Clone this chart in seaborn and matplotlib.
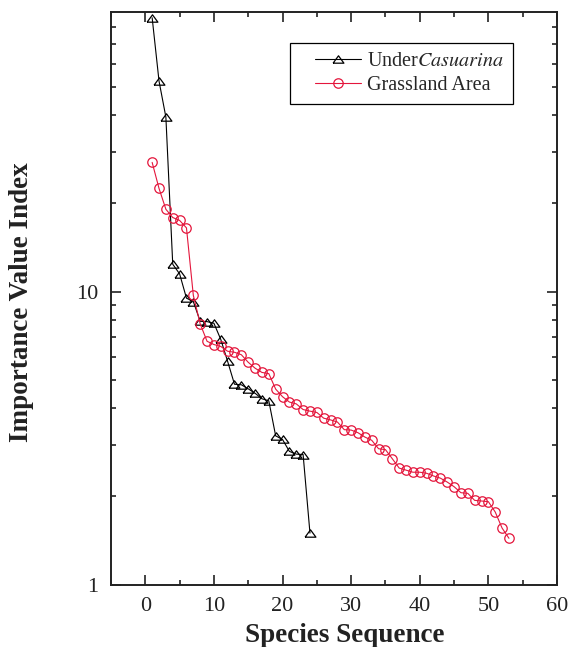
import numpy as np
import pandas as pd
import matplotlib
matplotlib.use("Agg")
import matplotlib.pyplot as plt
import seaborn as sns
from matplotlib.lines import Line2D
from matplotlib.legend_handler import HandlerLine2D
from matplotlib.ticker import FixedLocator, MultipleLocator, NullFormatter, FixedFormatter

# Importance value index per species, ranked
casuarina_iv = [86, 52.3, 39.4, 12.4, 11.5, 9.5, 9.25, 7.92, 7.9, 7.8,
                6.87, 5.78, 4.83, 4.81, 4.66, 4.5, 4.31, 4.24, 3.22, 3.13,
                2.85, 2.79, 2.78, 1.50]
grassland_iv = [27.6, 22.5, 19.1, 17.9, 17.5, 16.5, 9.71, 7.76, 6.77, 6.6,
                6.5, 6.26, 6.21, 6.09, 5.74, 5.48, 5.30, 5.25, 4.65, 4.38,
                4.2, 4.14, 3.96, 3.91, 3.87, 3.70, 3.65, 3.59, 3.38, 3.37,
                3.30, 3.19, 3.11, 2.91, 2.89, 2.69, 2.50, 2.46, 2.42, 2.42,
                2.40, 2.35, 2.31, 2.24, 2.16, 2.06, 2.05, 1.94, 1.93, 1.92,
                1.77, 1.56, 1.44]
series_labels = ["Under$\\it{Casuarina}$", "Grassland Area"]
x_ticks = [0, 10, 20, 30, 40, 50, 60]
y_major = [1, 10]
y_minor = [2, 3, 4, 5, 6, 7, 8, 9, 20, 30, 40, 50, 60, 70, 80]

sns.set_style("ticks")
plt.rcParams["font.family"] = ["Liberation Serif", "DejaVu Serif"]
plt.rcParams["mathtext.fontset"] = "stix"

df_cas = pd.DataFrame({"species": np.arange(1, len(casuarina_iv) + 1), "iv": casuarina_iv})
df_gra = pd.DataFrame({"species": np.arange(1, len(grassland_iv) + 1), "iv": grassland_iv})

tri = [(-1, -0.68), (1, -0.68), (0, 0.68), (-1, -0.68)]
red = "#e4163c"
ink = "#222222"

fig = plt.figure(figsize=(5.68, 6.47), dpi=100)
ax = fig.add_axes([0.1954, 0.0963, 0.7852, 0.8852])

sns.lineplot(data=df_cas, x="species", y="iv", ax=ax, color="black", lw=0.8,
             marker=tri, markersize=7.8, markerfacecolor="none",
             markeredgecolor="black", markeredgewidth=0.9, label=series_labels[0])
sns.lineplot(data=df_gra, x="species", y="iv", ax=ax, color=red, lw=0.8,
             marker="o", markersize=6.8, markerfacecolor="none",
             markeredgecolor=red, markeredgewidth=0.9, label=series_labels[1])

ax.set_yscale("log")
ax.set_xlim(-5, 60)
ax.set_ylim(1, 90)

ax.xaxis.set_major_locator(FixedLocator(x_ticks))
ax.xaxis.set_minor_locator(MultipleLocator(5))
ax.yaxis.set_major_locator(FixedLocator(y_major))
ax.yaxis.set_major_formatter(FixedFormatter([str(v) for v in y_major]))
ax.yaxis.set_minor_locator(FixedLocator(y_minor))
ax.yaxis.set_minor_formatter(NullFormatter())

ax.tick_params(which="both", direction="in", top=True, right=True, width=1.2, colors=ink)
ax.tick_params(which="major", length=7, labelsize=16, pad=9)
ax.tick_params(which="minor", length=3.5)
for s in ax.spines.values():
    s.set_linewidth(1.4)
    s.set_color(ink)

ax.set_xlabel("Species Sequence", fontsize=19.5, fontweight="bold", color=ink)
ax.set_ylabel("Importance Value Index", fontsize=19.5, fontweight="bold", color=ink)
ax.xaxis.set_label_coords(0.525, -0.067)
ax.yaxis.set_label_coords(-0.172, 0.494)

leg = ax.legend(loc="upper right", bbox_to_anchor=(0.901, 0.946), borderaxespad=0,
                fontsize=14.5, frameon=True, fancybox=False, framealpha=1,
                edgecolor="black", handlelength=3.05, handletextpad=0.3,
                borderpad=0.45, labelspacing=0.25,
                handler_map={Line2D: HandlerLine2D(xpad=0.75)})
leg.get_frame().set_linewidth(0.9)

fig.savefig("out.png", dpi=100)
